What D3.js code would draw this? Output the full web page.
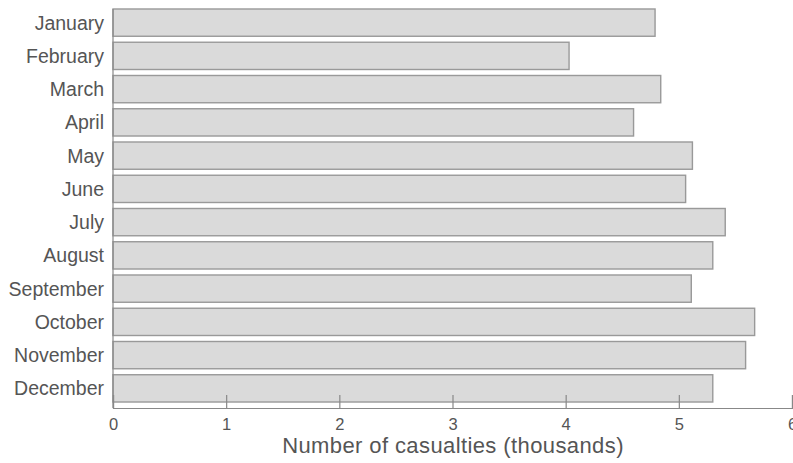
<!DOCTYPE html>
<html lang="en">
<head>
    <meta charset="UTF-8">
    <title>Casualties by month</title>
    <script src="https://d3js.org/d3.v7.min.js"></script>
    <style>
        body { margin: 0; background: white; }
        svg { display: block; }
        text { font-family: "Liberation Sans", Arial, sans-serif; fill: #555; }
    </style>
</head>
<body>
    <svg id="chart"></svg>
    <script>
        const width = 793, height = 463;

        // data (thousands)
        const months = ["January", "February", "March", "April", "May", "June",
                        "July", "August", "September", "October", "November", "December"];
        const casualties = [4.79, 4.03, 4.84, 4.60, 5.12, 5.06, 5.41, 5.30, 5.11, 5.67, 5.59, 5.30];
        const xTicks = [0, 1, 2, 3, 4, 5, 6];

        const margin = { left: 113, right: 1, top: 6, axisY: 408 };

        const svg = d3.select("#chart")
            .attr("width", width)
            .attr("height", height);

        const x = d3.scaleLinear()
            .domain([0, 6])
            .range([margin.left, width - margin.right]);

        const y = d3.scaleBand()
            .domain(months)
            .range([margin.top, 405])
            .paddingInner(0.18)
            .paddingOuter(0.09);

        // bars
        svg.append("g")
            .selectAll("rect")
            .data(months)
            .join("rect")
            .attr("x", x(0))
            .attr("y", d => y(d))
            .attr("width", (d, i) => x(casualties[i]) - x(0))
            .attr("height", y.bandwidth())
            .attr("fill", "#dadada")
            .attr("stroke", "#999")
            .attr("stroke-width", 1.4);

        // month labels
        svg.append("g")
            .selectAll("text")
            .data(months)
            .join("text")
            .attr("x", 104)
            .attr("y", d => y(d) + y.bandwidth() / 2)
            .attr("dy", "0.36em")
            .attr("text-anchor", "end")
            .attr("font-size", 19.5)
            .text(d => d);

        // x axis: ticks point up into the plot
        const xAxis = d3.axisBottom(x)
            .tickValues(xTicks)
            .tickFormat(d3.format("d"))
            .tickSize(-13)
            .tickPadding(0);

        const gx = svg.append("g")
            .attr("transform", `translate(0,${margin.axisY})`)
            .call(xAxis);

        gx.select(".domain").attr("stroke", "#888").attr("stroke-width", 1.2);
        gx.selectAll(".tick line").attr("stroke", "#888").attr("stroke-width", 1.2);
        gx.selectAll(".tick text")
            .attr("y", 10)
            .attr("dy", "0.71em")
            .attr("font-size", 16.5)
            .attr("fill", "#555")
            .attr("font-family", "Liberation Sans, Arial, sans-serif");

        // left vertical axis line
        svg.append("line")
            .attr("x1", x(0)).attr("x2", x(0))
            .attr("y1", y(months[0]))
            .attr("y2", margin.axisY)
            .attr("stroke", "#888")
            .attr("stroke-width", 1.2);

        // axis title
        svg.append("text")
            .attr("x", 453)
            .attr("y", 453)
            .attr("text-anchor", "middle")
            .attr("font-size", 22)
            .attr("letter-spacing", 0.4)
            .text("Number of casualties (thousands)");
    </script>
</body>
</html>
